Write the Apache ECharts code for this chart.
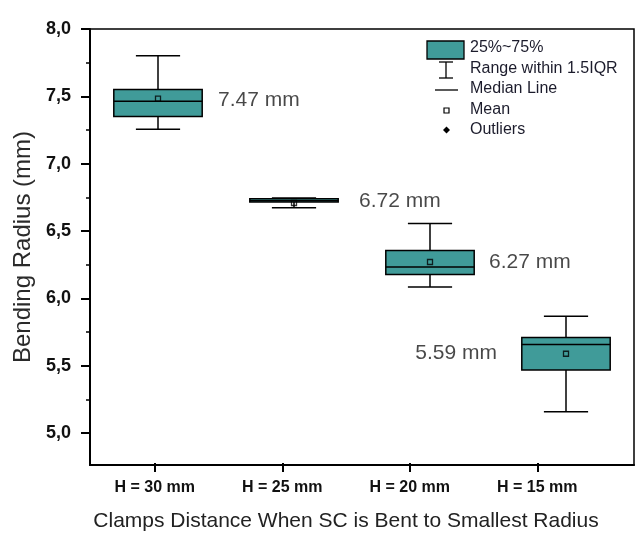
<!DOCTYPE html>
<html>
<head>
<meta charset="utf-8">
<script src="https://cdn.jsdelivr.net/npm/echarts@6/dist/echarts.min.js"></script>
<style>
html,body{margin:0;padding:0;background:#fff;}
#chart{width:637px;height:537px;}
</style>
</head>
<body>
<div id="chart"></div>
<script>
var categories = ['H = 30 mm', 'H = 25 mm', 'H = 20 mm', 'H = 15 mm'];
var whiskerLow = [7.256, 6.672, 6.085, 5.158];
var q1Values = [7.350, 6.715, 6.178, 5.468];
var medianValues = [7.463, 6.725, 6.233, 5.658];
var q3Values = [7.550, 6.740, 6.356, 5.710];
var whiskerHigh = [7.801, 6.745, 6.556, 5.868];
var meanValues = [7.483, 6.708, 6.270, 5.589];
var valueLabels = ['7.47 mm', '6.72 mm', '6.27 mm', '5.59 mm'];
var labelValues = [7.47, 6.72, 6.27, 5.59];
var yMajorTicks = [5.0, 5.5, 6.0, 6.5, 7.0, 7.5, 8.0];
var yMinorTicks = [5.25, 5.75, 6.25, 6.75, 7.25, 7.75];
var legendNames = ['25%~75%', 'Range within 1.5IQR', 'Median Line', 'Mean', 'Outliers'];

var TEAL = '#409b99';
var FONT = '"Liberation Sans", Arial, sans-serif';

var boxData = categories.map(function (c, i) {
  return [i, whiskerLow[i], q1Values[i], medianValues[i], q3Values[i], whiskerHigh[i]];
});
var meanData = categories.map(function (c, i) { return [i, meanValues[i]]; });
var labelPlacement = [
  { position: 'right', distance: 60 },
  { position: 'right', distance: 65 },
  { position: 'right', distance: 59 },
  { position: 'left', distance: 69 }
];
var labelData = categories.map(function (c, i) {
  return {
    value: [i, labelValues[i]],
    label: labelPlacement[i]
  };
});

function renderBox(params, api) {
  var idx = api.value(0);
  var pLow = api.coord([idx, api.value(1)]);
  var pQ1 = api.coord([idx, api.value(2)]);
  var pMed = api.coord([idx, api.value(3)]);
  var pQ3 = api.coord([idx, api.value(4)]);
  var pHigh = api.coord([idx, api.value(5)]);
  var band = api.size([1, 0])[0];
  var boxW = band * 0.65;
  var capW = boxW * 0.5;
  var cx = pMed[0];
  var stroke = { stroke: '#000', lineWidth: 1.5, fill: null };
  return {
    type: 'group',
    children: [
      { type: 'line', shape: { x1: cx, y1: pHigh[1], x2: cx, y2: pQ3[1] }, style: stroke },
      { type: 'line', shape: { x1: cx, y1: pQ1[1], x2: cx, y2: pLow[1] }, style: stroke },
      { type: 'line', shape: { x1: cx - capW / 2, y1: pHigh[1], x2: cx + capW / 2, y2: pHigh[1] }, style: stroke },
      { type: 'line', shape: { x1: cx - capW / 2, y1: pLow[1], x2: cx + capW / 2, y2: pLow[1] }, style: stroke },
      { type: 'rect', shape: { x: cx - boxW / 2, y: pQ3[1], width: boxW, height: pQ1[1] - pQ3[1] },
        style: { fill: TEAL, stroke: '#000', lineWidth: 1.5 } },
      { type: 'line', shape: { x1: cx - boxW / 2, y1: pMed[1], x2: cx + boxW / 2, y2: pMed[1] }, style: stroke }
    ]
  };
}

var legendTextStyle = { fill: '#1c1c2c', fontSize: 16, fontFamily: FONT, verticalAlign: 'middle' };
function legendText(name, y) {
  return { type: 'text', x: 470, y: y, style: Object.assign({ text: name }, legendTextStyle) };
}

var chart = echarts.init(document.getElementById('chart'), null, { renderer: 'canvas' });
chart.setOption({
  backgroundColor: '#fff',
  animation: false,
  grid: [
    { left: 90, right: 3, top: 29, bottom: 72, show: true, borderColor: '#000', borderWidth: 1.5, backgroundColor: 'transparent' },
    { left: 91, right: 36, top: 29, bottom: 72, show: false }
  ],
  xAxis: [
    {
      type: 'category', gridIndex: 0, data: categories, boundaryGap: true,
      axisLine: { show: true, lineStyle: { color: '#000', width: 2 } },
      axisTick: { show: false }, axisLabel: { show: false }, splitLine: { show: false }
    },
    {
      type: 'category', gridIndex: 1, data: categories, boundaryGap: true,
      axisLine: { show: false },
      axisTick: { show: true, alignWithLabel: true, length: 9, lineStyle: { color: '#000', width: 2 } },
      axisLabel: { show: true, margin: 17, color: '#111', fontWeight: 'bold', fontSize: 16, fontFamily: FONT },
      name: 'Clamps Distance When SC is Bent to Smallest Radius',
      nameLocation: 'middle', nameGap: 48,
      nameTextStyle: { fontSize: 21, color: '#222', fontFamily: FONT }
    }
  ],
  yAxis: [
    {
      type: 'value', gridIndex: 0, min: 4.763, max: 8.0,
      axisLine: { show: true, lineStyle: { color: '#000', width: 2 } },
      axisTick: { show: true, length: 9, customValues: yMajorTicks, lineStyle: { color: '#000', width: 2 } },
      axisLabel: {
        show: true, customValues: yMajorTicks, margin: 19, color: '#111', fontWeight: 'bold', fontSize: 18, fontFamily: FONT,
        formatter: function (v) { return v.toFixed(1).replace('.', ','); }
      },
      splitLine: { show: false },
      name: 'Bending Radius (mm)', nameLocation: 'middle', nameGap: 50,
      nameTextStyle: { fontSize: 24, color: '#2a2a2a', fontFamily: FONT }
    },
    {
      type: 'value', gridIndex: 0, min: 4.763, max: 8.0, position: 'left',
      axisLine: { show: false },
      axisTick: { show: true, length: 4, customValues: yMinorTicks, lineStyle: { color: '#000', width: 1.5 } },
      axisLabel: { show: false, customValues: yMinorTicks },
      splitLine: { show: false }
    },
    { type: 'value', gridIndex: 1, min: 4.763, max: 8.0, show: false }
  ],
  series: [
    {
      name: legendNames[0], type: 'custom', xAxisIndex: 0, yAxisIndex: 0,
      renderItem: renderBox, data: boxData, z: 2
    },
    {
      name: legendNames[3], type: 'scatter', xAxisIndex: 0, yAxisIndex: 0,
      symbol: 'rect', symbolSize: 5, data: meanData, z: 5,
      itemStyle: { color: 'rgba(0,0,0,0)', borderColor: '#000', borderWidth: 1.3 }
    },
    {
      name: 'labels', type: 'scatter', xAxisIndex: 0, yAxisIndex: 0,
      symbolSize: 0, data: labelData, z: 6,
      label: {
        show: true, color: '#1a1a1a', fontSize: 21, fontFamily: FONT,
        formatter: function (p) { return valueLabels[p.dataIndex]; }
      }
    }
  ],
  graphic: [
    { type: 'rect', shape: { x: 427, y: 41, width: 37, height: 18 }, style: { fill: TEAL, stroke: '#000', lineWidth: 1.3 } },
    legendText(legendNames[0], 48),
    { type: 'line', shape: { x1: 439, y1: 62, x2: 453, y2: 62 }, style: { stroke: '#000', lineWidth: 1.3 } },
    { type: 'line', shape: { x1: 446, y1: 62, x2: 446, y2: 78 }, style: { stroke: '#000', lineWidth: 1.3 } },
    { type: 'line', shape: { x1: 439, y1: 78, x2: 453, y2: 78 }, style: { stroke: '#000', lineWidth: 1.3 } },
    legendText(legendNames[1], 69),
    { type: 'line', shape: { x1: 435, y1: 90, x2: 458, y2: 90 }, style: { stroke: '#000', lineWidth: 1.3 } },
    legendText(legendNames[2], 89),
    { type: 'rect', shape: { x: 444, y: 108, width: 5, height: 5 }, style: { fill: '#fff', stroke: '#000', lineWidth: 1.2 } },
    legendText(legendNames[3], 110),
    { type: 'polygon', shape: { points: [[446.5, 126.5], [450, 130], [446.5, 133.5], [443, 130]] }, style: { fill: '#000' } },
    legendText(legendNames[4], 130)
  ]
});
</script>
</body>
</html>
